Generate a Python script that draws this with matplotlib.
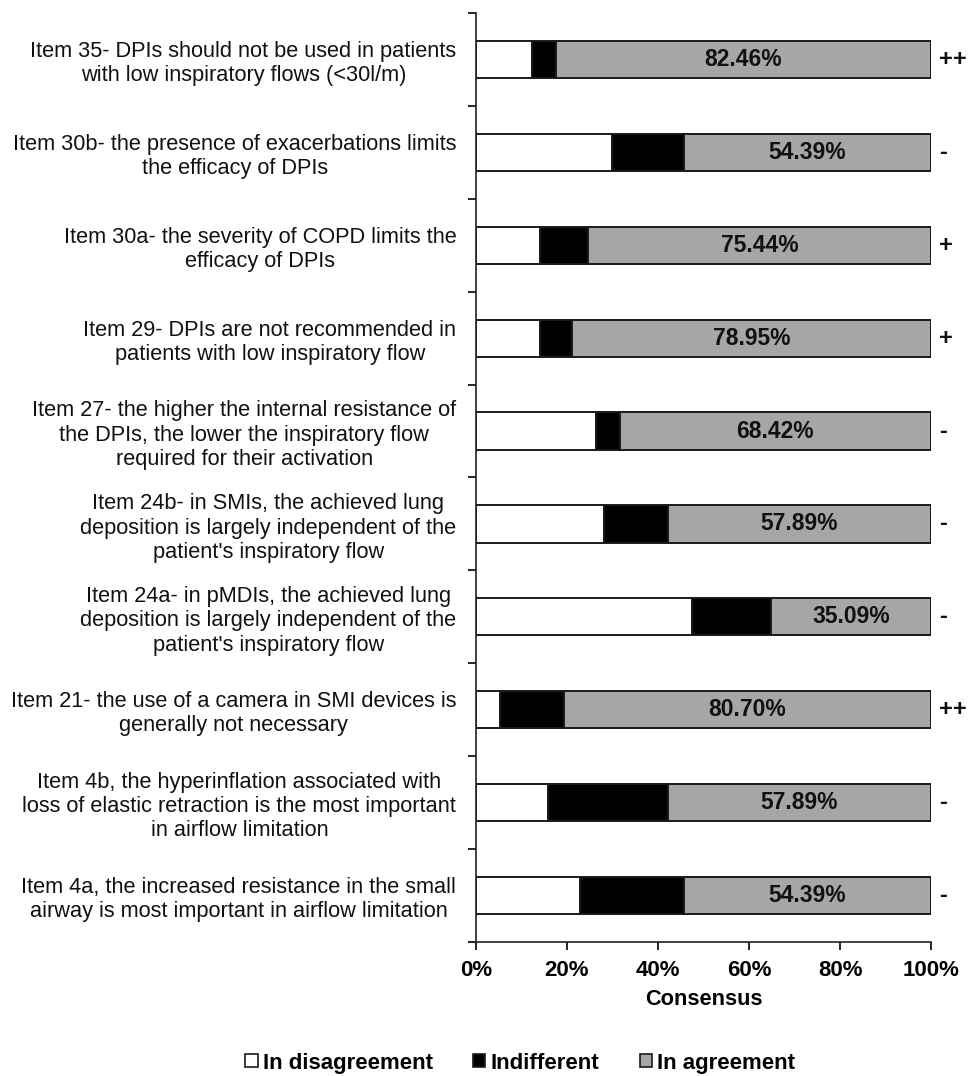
import matplotlib
matplotlib.use("Agg")
import matplotlib.pyplot as plt
import matplotlib.patches as mpatches
import numpy as np

plt.rcParams['font.family'] = ['Liberation Sans', 'DejaVu Sans']

items = [
    "Item 35- DPIs should not be used in patients\nwith low inspiratory flows (<30l/m)",
    "Item 30b- the presence of exacerbations limits\nthe efficacy of DPIs",
    "Item 30a- the severity of COPD limits the\nefficacy of DPIs",
    "Item 29- DPIs are not recommended in\npatients with low inspiratory flow",
    "Item 27- the higher the internal resistance of\nthe DPIs, the lower the inspiratory flow\nrequired for their activation",
    "Item 24b- in SMIs, the achieved lung\ndeposition is largely independent of the\npatient's inspiratory flow",
    "Item 24a- in pMDIs, the achieved lung\ndeposition is largely independent of the\npatient's inspiratory flow",
    "Item 21- the use of a camera in SMI devices is\ngenerally not necessary",
    "Item 4b, the hyperinflation associated with\nloss of elastic retraction is the most important\nin airflow limitation",
    "Item 4a, the increased resistance in the small\nairway is most important in airflow limitation",
]
disagreement = [12.28, 29.82, 14.04, 14.04, 26.32, 28.07, 47.37, 5.26, 15.79, 22.81]
indifferent = [5.26, 15.79, 10.53, 7.02, 5.26, 14.04, 17.54, 14.04, 26.32, 22.81]
agreement = [82.46, 54.39, 75.44, 78.95, 68.42, 57.89, 35.09, 80.70, 57.89, 54.39]
signs = ["++", "-", "+", "+", "-", "-", "-", "++", "-", "-"]
series_names = ["In disagreement", "Indifferent", "In agreement"]
colors = ["#FFFFFF", "#000000", "#A6A6A6"]

fig = plt.figure(figsize=(9.69, 10.76), dpi=100)
ax = fig.add_axes([0.491, 0.1245, 0.470, 0.8635])

y = np.arange(len(items))
h = 0.4
d = np.array(disagreement)
i_ = np.array(indifferent)
a = np.array(agreement)
ec = "#1a1a1a"
ax.barh(y, d, height=h, color=colors[0], edgecolor=ec, linewidth=1.4)
ax.barh(y, i_, left=d, height=h, color=colors[1], edgecolor=ec, linewidth=1.4)
ax.barh(y, a, left=d + i_, height=h, color=colors[2], edgecolor=ec, linewidth=1.4)

for k in range(len(items)):
    ax.text(d[k] + i_[k] + a[k] / 2, y[k], f"{a[k]:.2f}%", ha="center", va="center",
            fontsize=16.5, fontweight="bold", color="#111111")
    ax.text(101.8, y[k], signs[k], ha="left", va="center", fontsize=17,
            fontweight="bold", color="#111111", clip_on=False)

ax.set_xlim(0, 100)
ax.set_ylim(len(items) - 0.5, -0.5)
ax.set_yticks(y)
ax.set_yticklabels(items, fontsize=15.7, multialignment="center", color="#111111")
ax.tick_params(axis="y", which="major", length=0, pad=14)
ax.set_yticks(np.arange(-0.5, len(items), 1.0), minor=True)
ax.tick_params(axis="y", which="minor", length=6, width=1.2, direction="out")

xt = [0, 20, 40, 60, 80, 100]
ax.set_xticks(xt)
ax.set_xticklabels([f"{v}%" for v in xt], fontsize=16, fontweight="bold")
ax.tick_params(axis="x", length=6, width=1.2, direction="out", pad=7)
ax.set_xlabel("Consensus", fontsize=15.7, fontweight="bold", labelpad=6)

for s in ["top", "right"]:
    ax.spines[s].set_visible(False)
for s in ["left", "bottom"]:
    ax.spines[s].set_linewidth(1.2)
    ax.spines[s].set_color("#222222")

handles = [mpatches.Patch(facecolor=c, edgecolor=ec, linewidth=1.2, label=n)
           for c, n in zip(colors, series_names)]
fig.legend(handles=handles, loc="center", bbox_to_anchor=(0.537, 0.012), ncol=3,
           frameon=False, prop={"size": 16, "weight": "bold"},
           handlelength=0.55, handleheight=0.55, handletextpad=0.25, columnspacing=1.8)

fig.savefig("out.png", dpi=100)
